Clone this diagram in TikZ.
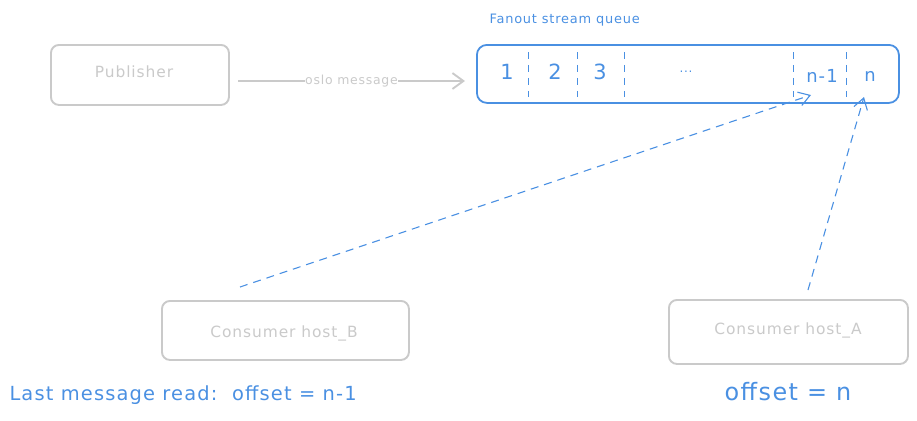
\documentclass[tikz,border=0pt]{standalone}
\usepackage{fontspec}
\setmainfont{DejaVu Sans}[LetterSpace=6]
\usetikzlibrary{arrows.meta}
\definecolor{qblue}{HTML}{4A90E2}
\definecolor{lgray}{HTML}{CACACA}
\tikzset{
  graybox/.style={draw=lgray, line width=1.9pt, rounded corners=8pt, fill=white},
  bluebox/.style={draw=qblue, line width=1.8pt, rounded corners=10pt},
  graytext/.style={text=lgray, font=\fontsize{15.5}{17}\selectfont},
  divider/.style={draw=qblue, line width=1pt, dash pattern=on 7pt off 6pt},
  cell/.style={text=qblue, font=\fontsize{18}{20}\selectfont},
  digit/.style={text=qblue, font=\fontsize{21}{23}\selectfont},
  readarrow/.style={draw=qblue, line width=1.1pt, dash pattern=on 8pt off 6pt, -{Straight Barb[length=11pt,width=14pt]}},
  pubarrow/.style={draw=lgray, line width=1.9pt, -{Straight Barb[length=11pt,width=16pt]}},
}
\begin{document}
\begin{tikzpicture}[x=1bp,y=-1bp]
\useasboundingbox (0,0) rectangle (917,420);
% publisher
\node[graybox, minimum width=178bp, minimum height=60bp, anchor=north west] (pub) at (50,44) {};
\node[graytext] (publbl) at (134,72) {Publisher};
% queue
\node[bluebox, minimum width=422bp, minimum height=58bp, anchor=north west] (queue) at (476,44) {};
\node[text=qblue, font=\fontsize{13}{15}\selectfont, anchor=west] (qtitle) at (486,20) {Fanout stream queue};
\foreach \x/\n in {528/d1,577/d2,624/d3,793/d4,846/d5}{
  \coordinate (\n t) at (\x,52);
  \coordinate (\n b) at (\x,97);
  \draw[divider] (\n t) -- (\n b);
}
\node[digit] (c1) at (507,72) {1};
\node[digit] (c2) at (555,72) {2};
\node[digit] (c3) at (600,72) {3};
\node[text=qblue, font=\fontsize{12}{14}\selectfont] (cdots) at (686,72) {...};
\node[cell] (cn1) at (822,76) {n-1};
\node[cell] (cn) at (870,76) {n};
% publisher arrow
\coordinate (pubout) at (238,81);
\coordinate (qin) at (465,81);
\draw[pubarrow] (pubout) -- (qin) node[pos=0.5, fill=white, inner sep=0.5pt, text=lgray, font=\fontsize{12.5}{14}\selectfont] (msg) {oslo message};
% consumers
\node[graybox, minimum width=247bp, minimum height=59bp, anchor=north west] (consB) at (161,300) {};
\node[graytext] (consBlbl) at (284,333) {Consumer host\_B};
\node[graybox, minimum width=239bp, minimum height=64bp, anchor=north west] (consA) at (668,299) {};
\node[graytext] (consAlbl) at (788,330) {Consumer host\_A};
% read arrows
\coordinate (bstart) at (240,287);
\coordinate (bend) at (811,95);
\draw[readarrow] (bstart) -- (bend);
\coordinate (astart) at (808,290);
\coordinate (aend) at (864,97);
\draw[readarrow] (astart) -- (aend);
% captions
\node[text=qblue, font=\fontsize{19.5}{21}\selectfont, anchor=west] (lastB) at (6,395) {Last message read:\ \ offset = n-1};
\node[text=qblue, font=\fontsize{24}{26}\selectfont] (lastA) at (788,392) {offset = n};
\end{tikzpicture}
\end{document}
